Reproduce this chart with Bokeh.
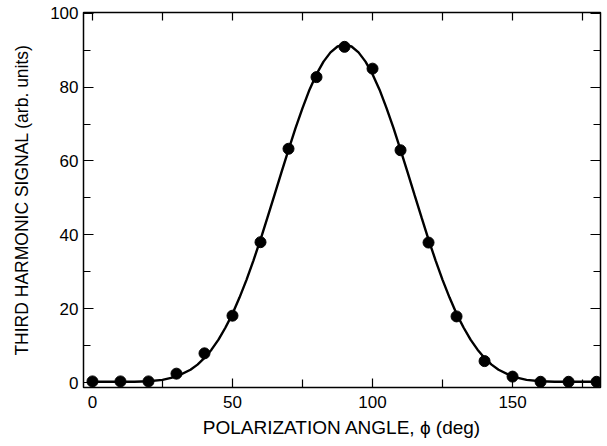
from bokeh.plotting import figure
from bokeh.models import Range1d, LinearAxis, FixedTicker
from bokeh.embed import file_html
from bokeh.resources import INLINE

# measured data points
angle = [0, 10, 20, 30, 40, 50, 60, 70, 80, 90, 100, 110, 120, 130, 140, 150, 160, 170, 180]
signal = [0.3, 0.3, 0.3, 2.4, 7.9, 18.1, 38.0, 63.3, 82.7, 90.9, 85.0, 62.9, 37.9, 17.9, 5.8, 1.6, 0.2, 0.2, 0.2]

# fitted curve
curve_angle = [0, 5, 10, 15, 20, 25, 30, 35, 37.5, 40, 42.5, 45, 47.5, 50, 52.5, 55, 57.5, 60, 62.5, 65,
               67.5, 70, 72.5, 75, 77.5, 80, 82.5, 85, 87.5, 90,
               92.5, 95, 97.5, 100, 102.5, 105, 107.5, 110, 112.5, 115, 117.5, 120, 122.5, 125, 127.5, 130,
               132.5, 135, 137.5, 140, 142.5, 145, 150, 155, 160, 165, 170, 175, 180]
curve_signal = [0.2, 0.2, 0.2, 0.2, 0.35, 0.7, 1.6, 3.45, 4.85, 6.65, 8.9, 11.6, 14.9, 18.6, 23.0, 27.8, 33.1, 38.7, 44.7, 50.8,
                57.0, 63.0, 68.9, 74.3, 79.3, 83.5, 86.9, 89.4, 91.0, 91.5,
                91.0, 89.4, 86.9, 83.5, 79.3, 74.3, 68.9, 63.0, 57.0, 50.8, 44.7, 38.7, 33.1, 27.8, 23.0, 18.6,
                14.9, 11.6, 8.9, 6.65, 4.85, 3.45, 1.6, 0.7, 0.35, 0.2, 0.2, 0.2, 0.2]

x_major = [0, 50, 100, 150]
x_minor = [25, 75, 125, 175]
y_major = [0, 20, 40, 60, 80, 100]
y_minor = [10, 30, 50, 70, 90]

FONT = "Liberation Sans"

p = figure(width=607, height=446, output_backend="svg", toolbar_location=None,
           x_range=Range1d(-3.2, 181.4), y_range=Range1d(-1.35, 100.2),
           x_axis_label="POLARIZATION ANGLE, \u03d5 (deg)",
           y_axis_label="THIRD HARMONIC SIGNAL (arb. units)",
           min_border_left=83, min_border_right=7, min_border_top=12, min_border_bottom=59)

p.grid.visible = False
p.outline_line_color = "black"
p.outline_line_width = 1.5
p.background_fill_color = "white"
p.border_fill_color = "white"

def style(ax, labels=True, major_in=10, minor_in=7):
    ax.axis_line_color = None
    ax.major_tick_in = major_in
    ax.major_tick_out = 0
    ax.minor_tick_in = minor_in
    ax.minor_tick_out = 0
    ax.major_tick_line_color = "black"
    ax.minor_tick_line_color = "black"
    ax.major_tick_line_width = 1.2
    ax.minor_tick_line_width = 1.2
    ax.major_label_text_font = FONT
    ax.major_label_text_font_size = "17px"
    ax.major_label_text_color = "black" if labels else None
    ax.axis_label_text_font = FONT
    ax.axis_label_text_font_size = "17.5px"
    ax.axis_label_text_font_style = "normal"
    ax.axis_label_text_color = "black"

xa = p.xaxis[0]
xa.ticker = FixedTicker(ticks=x_major, minor_ticks=x_minor)
style(xa, major_in=9, minor_in=8)
xa.major_label_standoff = 8
xa.axis_label_standoff = 6
xa.axis_label_text_font_size = "19px"

ya = p.yaxis[0]
ya.ticker = FixedTicker(ticks=y_major, minor_ticks=y_minor)
style(ya)
ya.major_label_standoff = 5
ya.axis_label_standoff = 15

ra = LinearAxis(ticker=FixedTicker(ticks=y_major, minor_ticks=y_minor))
style(ra, labels=False)
ra.major_label_text_font_size = "0px"
p.add_layout(ra, "right")

ta = LinearAxis(ticker=FixedTicker(ticks=x_major + x_minor, minor_ticks=[]))
style(ta, labels=False, major_in=8)
ta.major_label_text_font_size = "0px"
p.add_layout(ta, "above")

p.line(curve_angle, curve_signal, line_color="black", line_width=2.4)
p.scatter(angle, signal, size=11, fill_color="black", line_color="black")

open("out.html", "w").write(file_html(p, INLINE))
